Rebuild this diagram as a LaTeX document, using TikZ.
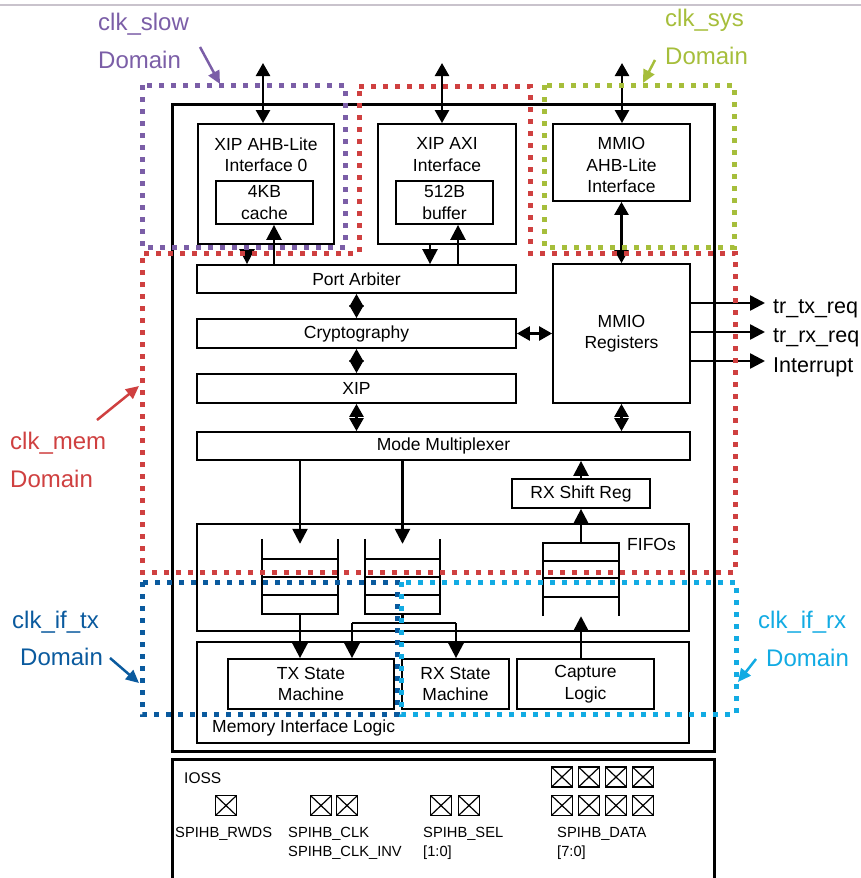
\documentclass[tikz,border=0pt]{standalone}
\usepackage{fontspec}
\setmainfont{Liberation Sans}
\usetikzlibrary{arrows.meta,calc}
\definecolor{cslow}{HTML}{7B5EA7}
\definecolor{cmem}{HTML}{CF4040}
\definecolor{csys}{HTML}{A6BE3B}
\definecolor{ctx}{HTML}{0A5A9E}
\definecolor{crx}{HTML}{12ABE3}
\definecolor{cgrey}{HTML}{C9C3CC}
\begin{document}
\begin{tikzpicture}[x=1pt,y=-1pt,
  box/.style={draw, line width=1.8pt, inner sep=0pt, align=center, font=\fontsize{17.5}{21.5}\selectfont},
  txt/.style={inner sep=0pt, align=center, font=\fontsize{17.5}{21.5}\selectfont},
  arr/.style={line width=2.5pt, -{Triangle[length=15pt,width=15pt]}},
  dbl/.style={line width=2.5pt, {Triangle[length=13pt,width=14pt]}-{Triangle[length=13pt,width=14pt]}},
  plain/.style={line width=2.5pt},
  fifoline/.style={line width=1.8pt},
  dom/.style={line width=5pt, dash pattern=on 5pt off 7pt},
  dlbl/.style={inner sep=0pt, anchor=base west, font=\fontsize{24}{29}\selectfont},
  lblarr/.style={line width=2.5pt, -{Triangle[length=13pt,width=12pt]}},
  side/.style={inner sep=0pt, anchor=base west, font=\fontsize{21.5}{26}\selectfont},
  iolbl/.style={inner sep=0pt, anchor=base west, font=\fontsize{14.7}{19}\selectfont},
  pad/.style={draw, line width=1.4pt, minimum width=21pt, minimum height=20pt, inner sep=0pt,
    path picture={\draw[line width=1.2pt] (path picture bounding box.north west) -- (path picture bounding box.south east)
      (path picture bounding box.south west) -- (path picture bounding box.north east);}}
]
\useasboundingbox (0,0) rectangle (861,878);

% top grey rule
\coordinate (gl) at (0,5);
\coordinate (gr) at (861,5);
\draw[cgrey, line width=2pt] (gl) -- (gr);

% main and IOSS boxes
\node[draw, line width=3pt, minimum width=542pt, minimum height=647pt, inner sep=0pt] (main) at (443,427.5) {};
\node[draw, line width=3pt, minimum width=542pt, minimum height=140pt, inner sep=0pt] (ioss) at (443,829) {};

% interfaces
\node[box, minimum width=136pt, minimum height=120pt] (ahb) at (266,184) {};
\node[txt] (ahbT) at (266,154.5) {XIP AHB-Lite\\Interface 0};
\node[box, minimum width=97pt, minimum height=43pt] (cache) at (264.5,202.5) {4KB\\cache};
\node[box, minimum width=138pt, minimum height=120pt] (axi) at (447,184) {};
\node[txt] (axiT) at (447,154.5) {XIP AXI\\Interface};
\node[box, minimum width=97pt, minimum height=43pt] (buffer) at (444.5,202.5) {512B\\buffer};
\node[box, minimum width=137pt, minimum height=77pt] (mmioa) at (621.5,162.5) {};
\node[txt] (mmioaT) at (621.5,165) {MMIO\\AHB-Lite\\Interface};

% bars
\node[box, minimum width=319pt, minimum height=28pt] (parb) at (356.5,279) {Port Arbiter};
\node[box, minimum width=319pt, minimum height=29pt] (crypto) at (356.5,333.5) {Cryptography};
\node[box, minimum width=319pt, minimum height=29pt] (xip) at (356.5,388.5) {XIP};
\node[box, minimum width=137pt, minimum height=139pt] (mmior) at (621.5,333.5) {MMIO\\Registers};
\node[box, minimum width=493pt, minimum height=28pt] (mux) at (443.5,446) {Mode Multiplexer};
\node[box, minimum width=138pt, minimum height=29pt] (rxsr) at (581,493.5) {RX Shift Reg};

% FIFOs
\node[box, minimum width=492pt, minimum height=107pt] (fifos) at (443,577.5) {};
\node[txt, anchor=base west] (fifosT) at (627,550) {FIFOs};
\node[inner sep=0pt, minimum width=76pt, minimum height=75pt] (f1) at (300,576.5) {};
\node[inner sep=0pt, minimum width=75pt, minimum height=75pt] (f2) at (402.5,576.5) {};
\node[inner sep=0pt, minimum width=76pt, minimum height=73pt] (f3) at (581,579.5) {};
\foreach \f in {f1,f2}{
  \draw[fifoline] (\f.north west) -- (\f.south west) -- (\f.south east) -- (\f.north east);
  \foreach \t in {0.267,0.507,0.747}{
    \draw[fifoline] ($(\f.north west)!\t!(\f.south west)$) -- ($(\f.north east)!\t!(\f.south east)$);
  }
}
\draw[fifoline] (f3.south west) -- (f3.north west) -- (f3.north east) -- (f3.south east);
\foreach \t in {0.247,0.479,0.740}{
  \draw[fifoline] ($(f3.north west)!\t!(f3.south west)$) -- ($(f3.north east)!\t!(f3.south east)$);
}

% memory interface logic
\node[box, minimum width=492pt, minimum height=101pt] (mil) at (443,692.5) {};
\node[txt, anchor=base west] (milT) at (212,732) {Memory Interface Logic};
\node[box, minimum width=166pt, minimum height=50pt] (txsm) at (311,684) {TX State\\Machine};
\node[box, minimum width=107pt, minimum height=50pt] (rxsm) at (455.5,684) {RX State\\Machine};
\node[box, minimum width=137pt, minimum height=50pt] (cap) at (585.5,684) {Capture\\Logic};

% connectors top
\coordinate (inA) at (263,63);
\coordinate (inB) at (442,63);
\coordinate (inC) at (622,63);
\draw[dbl] (inA) -- (inA |- ahb.north);
\draw[dbl] (inB) -- (inB |- axi.north);
\draw[dbl] (inC) -- (inC |- mmioa.north);

\coordinate (xA) at (247,0);
\coordinate (xB) at (274,0);
\coordinate (xC) at (430,0);
\coordinate (xD) at (458,0);
\draw[arr] (ahb.south -| xA) -- (parb.north -| xA);
\draw[arr] (parb.north -| xB) -- (cache.south -| xB);
\draw[arr] (axi.south -| xC) -- (parb.north -| xC);
\draw[arr] (parb.north -| xD) -- (buffer.south -| xD);

\draw[dbl] (parb.south) -- (crypto.north);
\draw[dbl] (crypto.south) -- (xip.north);
\draw[dbl] (xip.south) -- (xip.south |- mux.north);
\draw[dbl] (crypto) -- (mmior);
\draw[dbl] (mmioa.south) -- (mmior.north);
\draw[dbl] (mmior.south) -- (mmior.south |- mux.north);

% outputs
\node[side] (t1) at (773,313) {tr\_tx\_req};
\node[side] (t2) at (773,342) {tr\_rx\_req};
\node[side] (t3) at (773,372) {Interrupt};
\coordinate (o1) at (765,303);
\coordinate (o2) at (765,332);
\coordinate (o3) at (765,361);
\draw[arr] (mmior.east |- o1) -- (o1);
\draw[arr] (mmior.east |- o2) -- (o2);
\draw[arr] (mmior.east |- o3) -- (o3);

% datapath
\draw[arr] (rxsr.north) -- (rxsr.north |- mux.south);
\draw[arr] (f3.north) -- (rxsr.south);
\draw[arr] (mux.south -| f1.north) -- ([yshift=-5pt]f1.north);
\draw[arr] (mux.south -| f2.north) -- ([yshift=-5pt]f2.north);
\draw[arr] (f1.south) -- (f1.south |- txsm.north);
\coordinate (jL) at (352,623);
\coordinate (jR) at (456,623);
\draw[plain] (f2.south) -- (f2.south |- jL);
\draw[plain] (jL) -- (jR);
\draw[arr] (jL) -- (jL |- txsm.north);
\draw[arr] (jR) -- (jR |- rxsm.north);
\draw[arr] (f3.south |- cap.north) -- (f3.south);

% IOSS
\node[inner sep=0pt, anchor=base west, font=\fontsize{15.5}{19}\selectfont] (iossT) at (184,783) {IOSS};
\node[pad] (p1) at (226,805.5) {};
\node[pad] (p2) at (321,805.5) {};
\node[pad] (p3) at (347,805.5) {};
\node[pad] (p4) at (441,805.5) {};
\node[pad] (p5) at (469,805.5) {};
\foreach \i/\xx in {1/562,2/589,3/616,4/643}{
  \node[pad] (da\i) at (\xx,777) {};
  \node[pad] (db\i) at (\xx,805.5) {};
}
\node[iolbl] (l1) at (175,837) {SPIHB\_RWDS};
\node[iolbl] (l2) at (288,837) {SPIHB\_CLK};
\node[iolbl] (l2b) at (288,856) {SPIHB\_CLK\_INV};
\node[iolbl] (l3) at (423,837) {SPIHB\_SEL};
\node[iolbl] (l3b) at (423,856) {[1:0]};
\node[iolbl] (l4) at (557,837) {SPIHB\_DATA};
\node[iolbl] (l4b) at (557,856) {[7:0]};

% domains
\draw[dom, cslow] (142,85) rectangle (345,247);
\draw[dom, csys] (544,85) rectangle (734,247);
\draw[dom, cmem] (359,86) -- (530,86) -- (530,253) -- (735,253) -- (735,572) -- (142,572) -- (142,253) -- (359,253) -- cycle;
\draw[dom, ctx] (142,582) rectangle (397,714);
\draw[dom, crx] (401,582) rectangle (736,714);

% domain labels
\node[dlbl, text=cslow] (dslow) at (98,30) {clk\_slow};
\node[dlbl, text=cslow] (dslow2) at (98,68) {Domain};
\coordinate (aS1) at (200,47);
\coordinate (aS2) at (220,84);
\draw[lblarr, cslow] (aS1) -- (aS2);

\node[dlbl, text=csys] (dsys) at (665,27) {clk\_sys};
\node[dlbl, text=csys] (dsys2) at (665,64) {Domain};
\coordinate (aY1) at (655,60);
\coordinate (aY2) at (643,83);
\draw[lblarr, csys] (aY1) -- (aY2);

\node[dlbl, text=cmem] (dmem) at (10,449) {clk\_mem};
\node[dlbl, text=cmem] (dmem2) at (10,487) {Domain};
\coordinate (aM1) at (97,420);
\coordinate (aM2) at (139,386);
\draw[lblarr, cmem] (aM1) -- (aM2);

\node[dlbl, text=ctx] (dtx) at (12,628) {clk\_if\_tx};
\node[dlbl, text=ctx] (dtx2) at (20,665) {Domain};
\coordinate (aT1) at (110,658);
\coordinate (aT2) at (139,683);
\draw[lblarr, ctx] (aT1) -- (aT2);

\node[dlbl, text=crx] (drx) at (758,628) {clk\_if\_rx};
\node[dlbl, text=crx] (drx2) at (766,666) {Domain};
\coordinate (aR1) at (756,659);
\coordinate (aR2) at (738,682);
\draw[lblarr, crx] (aR1) -- (aR2);
\end{tikzpicture}
\end{document}
